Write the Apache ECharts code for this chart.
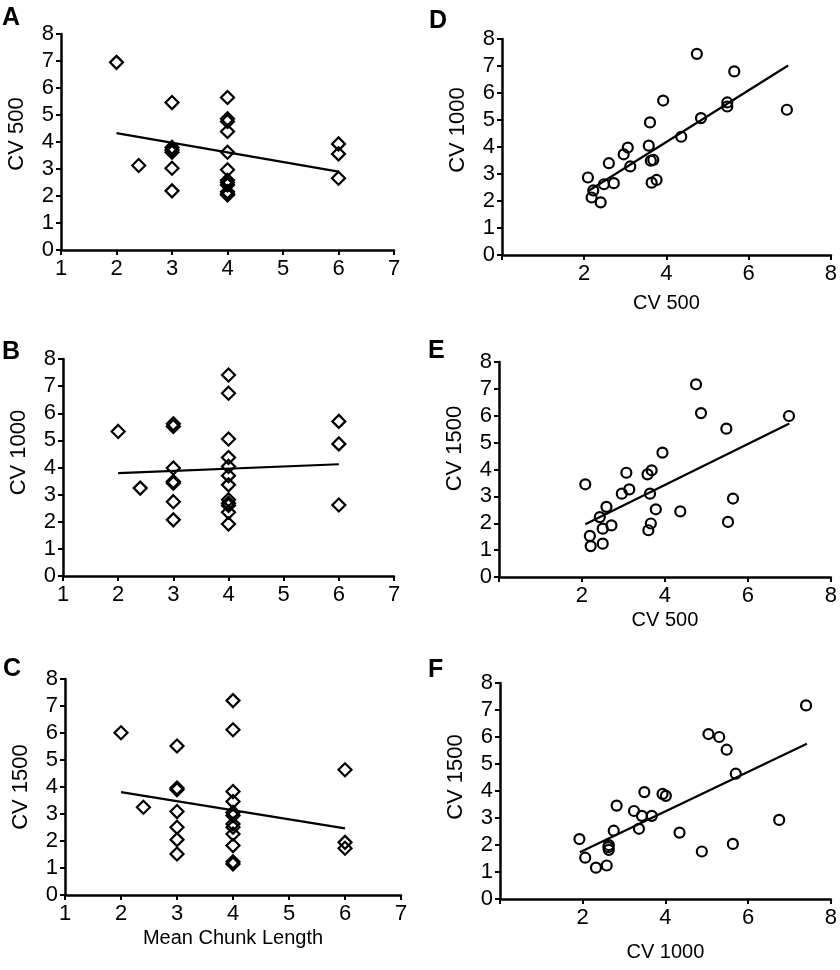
<!DOCTYPE html>
<html>
<head>
<meta charset="utf-8">
<script src="https://cdn.jsdelivr.net/npm/echarts@6/dist/echarts.min.js"></script>
<style>html,body{margin:0;padding:0;background:#fff}#c{width:840px;height:970px}</style>
</head>
<body>
<div id="c"></div>
<script>
// Panel A: Mean chunk length vs CV 500
const aX = [2, 2.4, 3, 3, 3, 3, 3, 3, 4, 4, 4, 4, 4, 4, 4, 4, 4, 4, 4, 4, 6, 6, 6];
const aY = [6.95, 3.13, 5.46, 3.80, 3.70, 3.62, 3.03, 2.19, 5.65, 4.86, 4.76, 4.39, 3.62, 2.97, 2.58, 2.50, 2.41, 2.16, 2.08, 2.04, 3.93, 3.56, 2.66];
const aTrend = [[2, 4.33], [6, 2.90]];
// Panel B: Mean chunk length vs CV 1000
const bX = [2, 2.4, 3, 3, 3, 3, 3, 3, 3, 4, 4, 4, 4, 4, 4, 4, 4, 4, 4, 4, 4, 6, 6, 6];
const bY = [5.33, 3.24, 5.61, 5.51, 3.98, 3.48, 3.42, 2.74, 2.07, 7.41, 6.74, 5.05, 4.37, 4.04, 3.70, 3.36, 2.81, 2.68, 2.60, 2.35, 1.92, 5.70, 4.87, 2.62];
const bTrend = [[2, 3.79], [6, 4.12]];
// Panel C: Mean chunk length vs CV 1500
const cX = [2, 2.4, 3, 3, 3, 3, 3, 3, 3, 4, 4, 4, 4, 4, 4, 4, 4, 4, 4, 4, 4, 6, 6, 6];
const cY = [6.01, 3.25, 5.52, 3.96, 3.90, 3.09, 2.51, 2.05, 1.52, 7.20, 6.12, 3.83, 3.46, 3.06, 2.94, 2.63, 2.51, 2.26, 1.83, 1.23, 1.15, 4.64, 1.95, 1.73];
const cTrend = [[2, 3.81], [6, 2.47]];
// Panel D: CV 500 vs CV 1000
const dX = [2.09, 2.22, 2.18, 2.40, 2.48, 2.72, 2.60, 2.96, 3.06, 3.12, 3.57, 3.60, 3.62, 3.68, 3.64, 3.76, 3.92, 4.36, 4.74, 4.84, 5.48, 5.48, 5.65, 6.93];
const dY = [2.87, 2.39, 2.13, 1.95, 2.62, 2.66, 3.40, 3.73, 3.98, 3.28, 4.05, 4.91, 3.49, 3.52, 2.68, 2.78, 5.72, 4.38, 7.45, 5.07, 5.65, 5.50, 6.80, 5.38];
const dTrend = [[2.09, 2.36], [6.96, 7.02]];
// Panel E: CV 500 vs CV 1500
const eX = [2.08, 2.19, 2.21, 2.43, 2.50, 2.50, 2.59, 2.71, 2.96, 3.07, 3.14, 3.58, 3.68, 3.64, 3.66, 3.60, 3.78, 3.94, 4.37, 4.75, 4.87, 5.48, 5.52, 5.64, 6.99];
const eY = [3.45, 1.53, 1.15, 2.23, 1.80, 1.24, 2.61, 1.92, 3.10, 3.88, 3.26, 3.82, 3.97, 3.10, 1.99, 1.74, 2.52, 4.63, 2.44, 7.17, 6.10, 5.52, 2.05, 2.92, 5.99];
const eTrend = [[2.08, 1.96], [7.0, 5.71]];
// Panel F: CV 1000 vs CV 1500
const fX = [1.92, 2.06, 2.32, 2.58, 2.63, 2.63, 2.62, 2.75, 2.82, 3.24, 3.36, 3.43, 3.49, 3.67, 3.93, 4.01, 4.34, 4.88, 5.04, 5.30, 5.48, 5.63, 5.70, 6.75, 7.40];
const fY = [2.22, 1.53, 1.16, 1.24, 2.00, 1.82, 1.92, 2.53, 3.46, 3.26, 2.60, 3.08, 3.96, 3.08, 3.89, 3.82, 2.46, 1.76, 6.11, 6.00, 5.53, 2.04, 4.64, 2.93, 7.17];
const fTrend = [[1.93, 1.73], [7.42, 5.75]];

const panelLetters = ['A', 'B', 'C', 'D', 'E', 'F'];
const yNames = ['CV 500', 'CV 1000', 'CV 1500', 'CV 1000', 'CV 1500', 'CV 1500'];
const xNames = ['', '', 'Mean Chunk Length', 'CV 500', 'CV 500', 'CV 1000'];

const FONT = 'Liberation Sans, Arial, sans-serif';
const zip = (xs, ys) => xs.map((x, i) => [x, ys[i]]);

const grids = [
  {left: 61, top: 34, width: 333, height: 216},
  {left: 63, top: 359, width: 331, height: 217},
  {left: 65, top: 679, width: 336, height: 216},
  {left: 502, top: 39, width: 333, height: 216},
  {left: 499, top: 362, width: 337, height: 215},
  {left: 500, top: 683, width: 336, height: 216}
];
const xNameGaps = [0, 0, 33, 38, 33, 43];
const yNameShift = [8, 15, 0, 17, 21, 14];
const letterPos = [[2, 6], [2, 340], [3, 657], [429, 9], [428, 339], [428, 658]];

const axisLine = {show: true, onZero: false, lineStyle: {color: '#000', width: 2.5}};
const axisTick = {show: true, inside: false, length: 5, lineStyle: {color: '#000', width: 2}};

const xAxes = grids.map((g, i) => {
  const chunk = i < 3;
  return {
    type: 'value', gridIndex: i,
    min: chunk ? 1 : 0, max: chunk ? 7 : 8, interval: chunk ? 1 : 2,
    axisLine, axisTick, splitLine: {show: false},
    axisLabel: {
      color: '#000', fontSize: 22, fontFamily: FONT, margin: 8,
      formatter: v => (!chunk && v === 0) ? '' : String(v)
    },
    name: xNames[i], nameLocation: 'middle', nameGap: xNameGaps[i],
    nameTextStyle: {color: '#000', fontSize: 20, fontFamily: FONT}
  };
});
const yAxes = grids.map((g, i) => ({
  type: 'value', gridIndex: i, min: 0, max: 8, interval: 1,
  axisLine, axisTick, splitLine: {show: false},
  axisLabel: {color: '#000', fontSize: 22, fontFamily: FONT, margin: 7},
  name: yNames[i], nameLocation: 'middle', nameGap: 33, nameRotate: 90,
  nameTextStyle: {color: '#000', fontSize: 22, fontFamily: FONT, padding: [0, 0, 0, 2 * yNameShift[i]]}
}));

const pts = [zip(aX, aY), zip(bX, bY), zip(cX, cY), zip(dX, dY), zip(eX, eY), zip(fX, fY)];
const trends = [aTrend, bTrend, cTrend, dTrend, eTrend, fTrend];

const series = [];
pts.forEach((d, i) => {
  series.push({
    type: 'line', xAxisIndex: i, yAxisIndex: i, data: trends[i],
    symbol: 'none', silent: true, z: 1,
    lineStyle: {color: '#000', width: 2.2}
  });
  series.push({
    type: 'scatter', xAxisIndex: i, yAxisIndex: i, data: d, z: 2,
    symbol: i < 3 ? 'diamond' : 'circle', symbolSize: i < 3 ? 13 : 10,
    itemStyle: {color: 'rgba(255,255,255,0)', borderColor: '#000', borderWidth: 2.2, opacity: 1}
  });
});

const graphics = panelLetters.map((t, i) => ({
  type: 'text', left: letterPos[i][0], top: letterPos[i][1],
  style: {text: t, font: 'bold 25px ' + FONT, fill: '#000'}
}));

const chart = echarts.init(document.getElementById('c'), null, {renderer: 'canvas'});
chart.setOption({
  animation: false,
  backgroundColor: '#fff',
  grid: grids,
  xAxis: xAxes,
  yAxis: yAxes,
  series,
  graphic: graphics
});
</script>
</body>
</html>
